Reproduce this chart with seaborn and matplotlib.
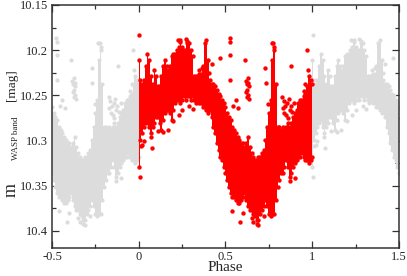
import pandas as pd
import seaborn as sns
import matplotlib.pyplot as plt
from matplotlib.ticker import MultipleLocator

# folded light curve: bright and faint limit of the bulk of the points, every 0.01 in phase
core_phase = [round(0.01 * i, 2) for i in range(101)]
core_top = [10.211, 10.233, 10.237, 10.233, 10.218, 10.204, 10.211, 10.229, 10.237, 10.222,
            10.229, 10.240, 10.240, 10.229, 10.218, 10.211, 10.218, 10.222, 10.218, 10.207,
            10.204, 10.204, 10.200, 10.196, 10.191, 10.196, 10.200, 10.200, 10.192, 10.192,
            10.200, 10.207, 10.229, 10.229, 10.229, 10.226, 10.226, 10.218, 10.192, 10.189,
            10.211, 10.233, 10.237, 10.237, 10.240, 10.244, 10.248, 10.251, 10.255, 10.259,
            10.263, 10.270, 10.274, 10.277, 10.285, 10.288, 10.292, 10.296, 10.299, 10.303,
            10.303, 10.307, 10.303, 10.296, 10.307, 10.314, 10.318, 10.322, 10.322, 10.318,
            10.318, 10.314, 10.310, 10.299, 10.285, 10.270, 10.255, 10.211, 10.200, 10.237,
            10.285, 10.285, 10.288, 10.285, 10.288, 10.285, 10.281, 10.285, 10.281, 10.274,
            10.270, 10.266, 10.259, 10.255, 10.255, 10.251, 10.248, 10.240, 10.229, 10.233,
            10.237]
core_bottom = [10.329, 10.299, 10.292, 10.285, 10.281, 10.277, 10.285, 10.292, 10.285, 10.281,
               10.274, 10.274, 10.281, 10.288, 10.277, 10.270, 10.266, 10.266, 10.270, 10.277,
               10.266, 10.259, 10.255, 10.255, 10.259, 10.255, 10.251, 10.255, 10.251, 10.251,
               10.255, 10.251, 10.255, 10.259, 10.255, 10.259, 10.259, 10.263, 10.263, 10.266,
               10.270, 10.266, 10.274, 10.285, 10.292, 10.303, 10.310, 10.318, 10.322, 10.329,
               10.336, 10.344, 10.351, 10.358, 10.362, 10.362, 10.366, 10.369, 10.369, 10.366,
               10.362, 10.358, 10.366, 10.373, 10.377, 10.377, 10.381, 10.384, 10.388, 10.388,
               10.381, 10.377, 10.373, 10.366, 10.373, 10.381, 10.384, 10.381, 10.381, 10.366,
               10.351, 10.344, 10.336, 10.336, 10.329, 10.322, 10.329, 10.340, 10.336, 10.329,
               10.325, 10.322, 10.318, 10.318, 10.314, 10.318, 10.322, 10.322, 10.325, 10.322,
               10.318]

# single observations and small groups outside the bulk
pt_phase = [0.003, 0.006, 0.012, 0.020, 0.028, 0.075, 0.070, 0.110, 0.140, 0.168,
            0.200, 0.230, 0.250, 0.290, 0.310,
            0.225, 0.238, 0.270, 0.280,
            0.345, 0.362, 0.420, 0.405, 0.468,
            0.524, 0.528, 0.526, 0.526, 0.560, 0.545, 0.572,
            0.612, 0.618, 0.622, 0.626, 0.630, 0.634, 0.624, 0.636, 0.628, 0.620, 0.632,
            0.584, 0.540, 0.600, 0.660, 0.680, 0.690, 0.720, 0.650,
            0.728, 0.732, 0.745, 0.766, 0.776, 0.782,
            0.826, 0.835, 0.845, 0.855, 0.865, 0.875, 0.885, 0.840, 0.850, 0.860, 0.830, 0.870,
            0.832, 0.880, 0.895, 0.900, 0.870,
            0.968, 0.975, 0.960, 0.950]
pt_mag = [10.183, 10.340, 10.306, 10.305, 10.300, 10.308, 10.296, 10.290, 10.291, 10.288,
          10.278, 10.272, 10.266, 10.262, 10.265,
          10.189, 10.189, 10.188, 10.190,
          10.222, 10.220, 10.215, 10.225, 10.209,
          10.187, 10.191, 10.205, 10.233, 10.255, 10.262, 10.264,
          10.211, 10.234, 10.238, 10.244, 10.250, 10.240, 10.252, 10.254, 10.231, 10.246, 10.236,
          10.390, 10.378, 10.380, 10.390, 10.392, 10.393, 10.384, 10.386,
          10.220, 10.236, 10.260, 10.192, 10.192, 10.196,
          10.252, 10.256, 10.262, 10.258, 10.254, 10.262, 10.268, 10.270, 10.272, 10.275, 10.264, 10.266,
          10.290, 10.218, 10.258, 10.342, 10.345,
          10.200, 10.222, 10.238, 10.245]

ytick_vals = [10.15, 10.2, 10.25, 10.3, 10.35, 10.4]
ytick_labels = ["10.15", "10.2", "10.25", "10.3", "10.35", "10.4"]
xtick_vals = [-0.5, 0, 0.5, 1, 1.5]
xtick_labels = ["-0.5", "0", "0.5", "1", "1.5"]

core = pd.DataFrame({"phase": core_phase, "top": core_top, "bottom": core_bottom})
pts = pd.DataFrame({"phase": pt_phase, "mag": pt_mag})
edges = pd.concat([core.rename(columns={"top": "mag"})[["phase", "mag"]],
                   core.rename(columns={"bottom": "mag"})[["phase", "mag"]]])
pts_all = pd.concat([pts, edges])

# grey copies: second half shifted to negative phase, first half beyond 1
core_left = core[core.phase >= 0.5].assign(phase=lambda d: d.phase - 1)
core_right = core[core.phase <= 0.5].assign(phase=lambda d: d.phase + 1)
pts_grey = pd.concat([pts_all[pts_all.phase >= 0.5].assign(phase=lambda d: d.phase - 1),
                      pts_all[pts_all.phase <= 0.5].assign(phase=lambda d: d.phase + 1)])

sns.set_style("ticks")
plt.rcParams["font.family"] = ["Liberation Serif", "DejaVu Serif"]
plt.rcParams["axes.unicode_minus"] = False

fig = plt.figure(figsize=(4.07, 2.76), dpi=100)
ax = fig.add_axes([0.1278, 0.1014, 0.8525, 0.8805])

grey = "#dcdcdc"
red = "#ff0000"
for c in (core_left, core_right):
    ax.fill_between(c.phase, c.top, c.bottom, color=grey, lw=0, step="mid")
sns.scatterplot(data=pts_grey, x="phase", y="mag", color=grey, s=9, linewidth=0, ax=ax)
ax.fill_between(core.phase, core.top, core.bottom, color=red, lw=0, step="mid")
sns.scatterplot(data=pts_all, x="phase", y="mag", color=red, s=10, linewidth=0, ax=ax)

ax.set_xlim(-0.5, 1.5)
ax.set_ylim(10.419, 10.15)
ax.set_xticks(xtick_vals)
ax.set_xticklabels(xtick_labels)
ax.set_yticks(ytick_vals)
ax.set_yticklabels(ytick_labels)
ax.xaxis.set_minor_locator(MultipleLocator(0.25))
ax.yaxis.set_minor_locator(MultipleLocator(0.025))
ax.tick_params(which="both", direction="in", top=True, right=True, labelsize=9,
               color="#333333", width=0.9, pad=3)
ax.tick_params(axis="x", which="both", pad=2)
ax.tick_params(which="major", length=5)
ax.tick_params(which="minor", length=3)
for sp in ax.spines.values():
    sp.set_color("#333333")
    sp.set_linewidth(1.1)

ax.set_xlabel("Phase", fontsize=11, labelpad=-1)
ax.set_ylabel("")
fig.text(0.028, 0.31, "m", rotation=90, fontsize=13, ha="center", va="center")
fig.text(0.040, 0.50, "WASP band", rotation=90, fontsize=6.5, ha="center", va="center")
fig.text(0.030, 0.69, "[mag]", rotation=90, fontsize=9.5, ha="center", va="center")

fig.savefig("out.png", dpi=100)
